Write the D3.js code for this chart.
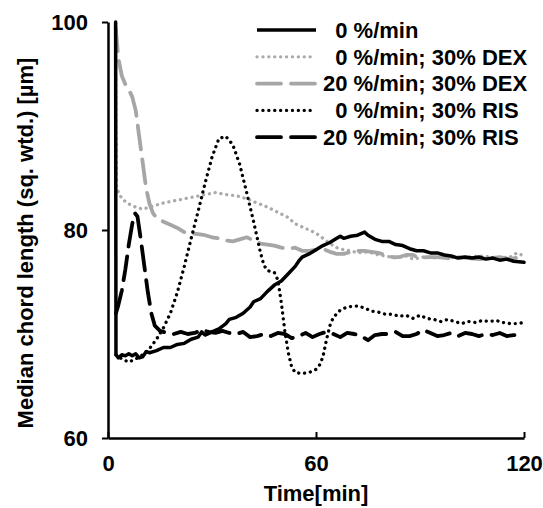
<!DOCTYPE html>
<html>
<head>
<meta charset="utf-8">
<script src="https://cdn.jsdelivr.net/npm/d3@7"></script>
<style>
  body { margin: 0; background: #fff; }
  svg text { font-family: Arial, "Liberation Sans", sans-serif; font-weight: bold; fill: #000; }
</style>
</head>
<body>
<div id="chart"></div>
<script>
// time [min], median chord length [um]
var solid0 = [[2.2,100],[2.3,68.0],[3,67.7],[4,68.0],[5,67.9],[6,68.1],[7,67.9],[8,68.1],[9,67.7],[10,67.8],[11,68.3],[12,68.2],[14,68.4],[16,68.7],[18,68.7],[20,69.0],[22,69.1],[24,69.5],[26,69.7],[27,70.2],[28,69.9],[30,70.2],[32,70.5],[34,71.0],[35,71.4],[37,71.6],[39,72.0],[41,72.6],[42,73.1],[44,73.4],[46,74.1],[48,74.7],[50,75.1],[52,75.8],[54,76.5],[55,77.0],[56,77.4],[58,77.7],[60,78.1],[62,78.5],[64,78.8],[66,79.2],[67,79.4],[68,79.2],[70,79.4],[72,79.5],[74,79.8],[75,79.5],[77,79.1],[79,78.9],[81,78.9],[83,78.6],[85,78.5],[87,78.2],[89,78.0],[91,78.0],[93,77.8],[95,77.8],[97,77.6],[99,77.5],[101,77.3],[103,77.4],[105,77.3],[107,77.4],[109,77.2],[111,77.3],[113,77.1],[115,77.2],[117,77.0],[120,76.9]];
var dex0 = [[2.2,99],[2.3,90],[2.5,84.0],[4,83.0],[6,82.5],[8,82.2],[10,82.0],[12,82.2],[14,82.4],[16,82.6],[19,82.8],[22,83.0],[25,83.2],[28,83.4],[31,83.6],[34,83.4],[37,83.3],[40,83.0],[43,82.6],[46,82.2],[49,81.7],[52,81.2],[54,80.6],[56,80.3],[58,80.0],[60,79.7],[62,79.2],[64,78.7],[66,78.3],[68,78.1],[70,78.0],[72,77.8],[74,77.9],[76,77.8],[78,77.6],[80,77.5],[83,77.3],[86,77.5],[88,77.2],[91,77.4],[94,77.3],[97,77.5],[100,77.3],[104,77.4],[108,77.5],[112,77.3],[116,77.4],[118,77.8],[120,77.5]];
var dex20 = [[2.2,99.5],[3,96.5],[4,94.8],[5,94.0],[6,93.5],[7,92.8],[8,91.5],[9,89.0],[10,86.5],[11,84.0],[12,82.5],[13,81.6],[14,81.2],[16,80.8],[18,80.5],[20,80.2],[22,79.8],[24,79.7],[26,79.6],[28,79.5],[30,79.3],[32,79.2],[34,79.0],[36,78.9],[38,79.1],[40,79.3],[42,79.0],[44,78.7],[46,78.6],[48,78.5],[50,78.3],[52,78.2],[54,78.3],[56,78.0],[58,78.0],[60,78.1],[62,78.2],[64,77.9],[66,77.7],[68,77.7],[70,77.9],[72,78.0],[74,78.0],[76,77.9],[78,77.8],[80,77.6],[82,77.4],[84,77.4],[86,77.6],[88,77.6],[90,77.3],[92,77.4],[95,77.4],[98,77.3],[101,77.4],[104,77.3],[107,77.2],[110,77.3],[113,77.4],[116,77.2],[120,77.5]];
var ris0 = [[2.3,68.0],[4,67.6],[6,67.3],[8,67.6],[10,68.0],[12,68.6],[14,69.5],[16,70.6],[18,72.0],[20,74.0],[22,76.5],[24,79.2],[26,81.8],[28,84.5],[30,87.0],[32,88.8],[34,89.0],[36,88.2],[38,86.3],[40,83.6],[42,80.8],[44,77.8],[45,76.6],[46,76.1],[48,75.9],[49,75.2],[50,73.0],[51,70.3],[52,68.2],[53,66.8],[54,66.3],[56,66.2],[58,66.3],[60,66.6],[61,67.0],[62,67.8],[63,69.4],[64,70.8],[65,71.6],[67,72.3],[69,72.6],[72,72.7],[74,72.5],[76,72.2],[78,72.1],[80,71.9],[82,71.9],[84,71.7],[86,71.8],[88,71.5],[90,71.8],[92,71.5],[94,71.4],[96,71.2],[98,71.4],[100,71.2],[102,71.0],[104,71.2],[106,71.1],[108,71.3],[110,71.2],[112,71.3],[114,71.1],[116,71.0],[118,71.0],[120,71.1]];
var ris20 = [[2.3,72.0],[3,72.8],[4,74.2],[5,76.2],[6,78.6],[7,80.6],[7.8,81.6],[8.5,81.3],[9.5,79.0],[10.5,76.5],[11.5,74.0],[12.5,72.0],[13.5,70.8],[15,70.3],[17,70.1],[19,70.0],[21,70.2],[23,70.0],[25,70.1],[27,70.4],[29,70.2],[31,70.1],[33,70.3],[35,70.1],[37,70.0],[39,70.2],[41,69.7],[43,69.8],[45,70.0],[47,69.8],[49,70.1],[51,70.0],[53,69.6],[55,69.8],[57,70.1],[59,69.7],[61,70.0],[63,70.2],[65,70.0],[67,69.7],[69,70.1],[71,70.0],[73,69.8],[75,69.4],[77,69.9],[79,70.0],[81,70.0],[83,70.2],[85,69.8],[87,69.8],[89,70.0],[91,70.4],[93,70.1],[95,69.8],[97,69.9],[99,70.1],[101,69.8],[103,70.1],[105,70.0],[107,69.8],[109,70.0],[111,69.9],[113,70.1],[115,69.8],[117,69.9],[120,69.8]];

var xTicks = [0, 60, 120];
var yTicks = [60, 80, 100];
var legendLabels = ["\u20070 %/min", "\u20070 %/min; 30% DEX", "20 %/min; 30% DEX", "\u20070 %/min; 30% RIS", "20 %/min; 30% RIS"];

var margin = { top: 22, right: 19, bottom: 70, left: 108 },
  width = 543 - margin.left - margin.right,
  height = 508 - margin.top - margin.bottom;

var x = d3.scaleLinear().domain([0, 120]).range([0, width]);
var y = d3.scaleLinear().domain([60, 100]).range([height, 0]);

var svg = d3.select("#chart")
  .append("svg")
  .attr("width", 543)
  .attr("height", 508)
  .append("g")
  .attr("transform", "translate(" + margin.left + "," + margin.top + ")");

var line = d3.line()
  .x(function (d) { return x(d[0]); })
  .y(function (d) { return y(d[1]); });

var series = [
  { data: solid0, color: "#000", width: 3.5, dash: null },
  { data: dex0, color: "#aaa", width: 3.3, dash: "0.1,5.8" },
  { data: dex20, color: "#a6a6a6", width: 3.8, dash: "24,10" },
  { data: ris0, color: "#000", width: 3.3, dash: "0.1,5.8" },
  { data: ris20, color: "#000", width: 3.8, dash: "24,10" }
];

// draw order: grey first, black on top
[1, 2, 3, 4, 0].forEach(function (i) {
  var s = series[i];
  svg.append("path")
    .datum(s.data)
    .attr("fill", "none")
    .attr("stroke", s.color)
    .attr("stroke-width", s.width)
    .attr("stroke-linecap", "round")
    .attr("stroke-linejoin", "round")
    .attr("stroke-dasharray", s.dash)
    .attr("d", line);
});

// axes
var xAxis = svg.append("g")
  .attr("transform", "translate(0," + height + ")")
  .call(d3.axisBottom(x).tickValues(xTicks).tickSizeInner(-6).tickSizeOuter(0).tickPadding(17));

var yAxis = svg.append("g")
  .call(d3.axisLeft(y).tickValues(yTicks).tickSizeInner(6).tickSizeOuter(0).tickPadding(14));

[xAxis, yAxis].forEach(function (a) {
  a.select(".domain").attr("stroke", "#000").attr("stroke-width", 2.5);
  a.selectAll(".tick line").attr("stroke", "#000").attr("stroke-width", 2);
  a.selectAll(".tick text").style("font-size", "22px").attr("fill", "#000");
});

svg.append("text")
  .attr("x", width / 2)
  .attr("y", 479)
  .attr("text-anchor", "middle")
  .style("font-size", "22px")
  .text("Time[min]");

svg.append("text")
  .attr("transform", "translate(" + (33 - margin.left) + "," + (243 - margin.top) + ") rotate(-90)")
  .attr("text-anchor", "middle")
  .style("font-size", "22px")
  .text("Median chord length (sq. wtd.) [µm]");

// legend
var legend = svg.append("g")
  .attr("transform", "translate(" + (257 - margin.left) + "," + (30 - margin.top) + ")");

legendLabels.forEach(function (label, i) {
  var s = series[i];
  var row = legend.append("g").attr("transform", "translate(0," + i * 26.8 + ")");
  row.append("line")
    .attr("x1", 0).attr("x2", 59)
    .attr("y1", 0).attr("y2", 0)
    .attr("stroke", s.color)
    .attr("stroke-width", s.width)
    .attr("stroke-linecap", s.dash ? "round" : "butt")
    .attr("stroke-dasharray", s.dash);
  row.append("text")
    .attr("x", 66)
    .attr("dy", "0.35em")
    .style("font-size", "22px")
    .text(label);
});
</script>
</body>
</html>
